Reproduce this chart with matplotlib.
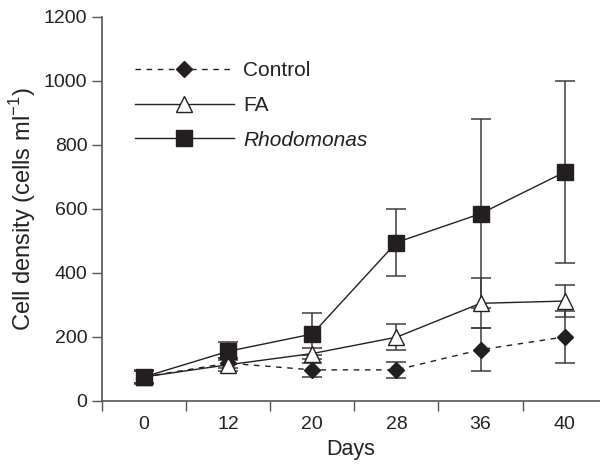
import matplotlib.pyplot as plt
import numpy as np

plt.rcParams['font.family'] = ['Liberation Sans', 'DejaVu Sans']
plt.rcParams['mathtext.fontset'] = 'custom'
plt.rcParams['mathtext.rm'] = 'Liberation Sans'

# Data
days = ['0', '12', '20', '28', '36', '40']
control = [75, 118, 97, 97, 160, 200]
control_err = [20, 15, 22, 25, 68, 80]
fa = [75, 113, 148, 199, 305, 312]
fa_err = [20, 20, 18, 40, 78, 50]
rhodo = [75, 155, 209, 495, 585, 715]
rhodo_err = [22, 28, 67, 105, 295, 285]

ink = '#231f20'
bar_col = '#3c3c3c'
axis_col = '#555555'

fig = plt.figure(figsize=(6, 4.7), dpi=100)
ax = fig.add_axes([0.17, 0.147, 0.83, 0.817])
x = np.arange(len(days))

# error bars first, then lines/markers on top
for y, e in [(control, control_err), (fa, fa_err), (rhodo, rhodo_err)]:
    ax.errorbar(x, y, yerr=e, fmt='none', ecolor=bar_col, elinewidth=1.1,
                capsize=7, capthick=1.1, zorder=2)

ax.plot(x, control, linestyle=(0, (4, 4)), color=ink, lw=1, marker='D',
        markersize=8, markerfacecolor=ink, markeredgecolor=ink,
        label='Control', zorder=3)
ax.plot(x, fa, linestyle='-', color=ink, lw=1, marker='^', markersize=11,
        markerfacecolor='white', markeredgecolor=ink, markeredgewidth=1,
        label='FA', zorder=4)
ax.plot(x, rhodo, linestyle='-', color=ink, lw=1, marker='s', markersize=11,
        markerfacecolor=ink, markeredgecolor=ink, label='Rhodomonas', zorder=5)

ax.set_xlim(-0.5, 5.42)
ax.set_ylim(0, 1200)
ax.set_yticks(np.arange(0, 1201, 200))
ax.set_xticks(x)
ax.set_xticklabels(days)
ax.set_xticks(x - 0.5, minor=True)
ax.tick_params(axis='x', which='major', length=0, pad=11, labelsize=14, labelcolor='#222222')
ax.tick_params(axis='x', which='minor', length=7.5, direction='out', width=1, color=axis_col)
ax.tick_params(axis='y', length=7.5, direction='out', width=1, color=axis_col,
               labelsize=14, pad=3, labelcolor='#222222')

for s in ['top', 'right']:
    ax.spines[s].set_visible(False)
for s in ['left', 'bottom']:
    ax.spines[s].set_color(axis_col)
    ax.spines[s].set_linewidth(1.2)

ax.set_xlabel('Days', fontsize=15.5, labelpad=4, color='#222222')
ax.set_ylabel(r'Cell density (cells ml$^{-1}$)', fontsize=17, labelpad=4, color='#222222')

leg = ax.legend(loc='upper left', bbox_to_anchor=(0.066, 0.885), frameon=False,
                handlelength=4.75, numpoints=1, fontsize=15, labelspacing=0.76,
                handletextpad=0.45, borderpad=0, borderaxespad=0)
for t in leg.get_texts():
    t.set_color('#222222')
leg.get_texts()[2].set_style('italic')

plt.savefig('out.png', dpi=100, facecolor='white')
